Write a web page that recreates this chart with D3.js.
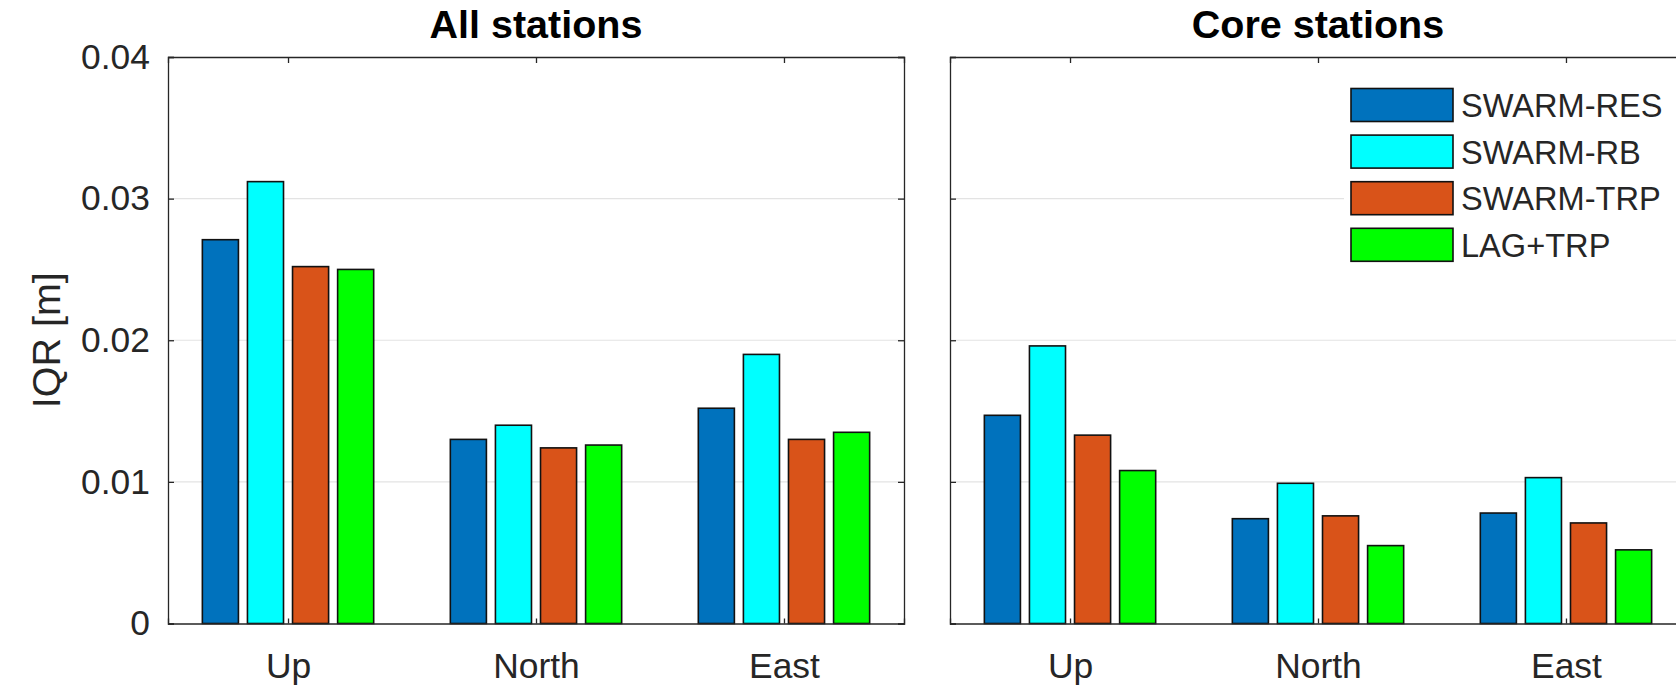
<!DOCTYPE html>
<html>
<head>
<meta charset="utf-8">
<script src="https://cdn.jsdelivr.net/npm/d3@7"></script>
<style>
  html, body { margin: 0; padding: 0; background: #fff; overflow: hidden; }
  svg { display: block; font-family: "Liberation Sans", Arial, Helvetica, sans-serif; }
</style>
</head>
<body>
<svg id="chart" width="1676" height="688"></svg>
<script>
// Components of the position error
const categories = ["Up", "North", "East"];
const seriesNames = ["SWARM-RES", "SWARM-RB", "SWARM-TRP", "LAG+TRP"];
const seriesColors = ["#0072BD", "#00FFFF", "#D95319", "#00FF00"];
const panelTitles = ["All stations", "Core stations"];
const yTicks = [0, 0.01, 0.02, 0.03, 0.04];

// IQR [m] per series, one value per category (Up, North, East)
const allSwarmRes = [0.0271, 0.0130, 0.0152];
const allSwarmRb  = [0.0312, 0.0140, 0.0190];
const allSwarmTrp = [0.0252, 0.0124, 0.0130];
const allLagTrp   = [0.0250, 0.0126, 0.0135];

const coreSwarmRes = [0.0147, 0.0074, 0.0078];
const coreSwarmRb  = [0.0196, 0.0099, 0.0103];
const coreSwarmTrp = [0.0133, 0.0076, 0.0071];
const coreLagTrp   = [0.0108, 0.0055, 0.0052];

const panels = [
  { title: panelTitles[0], series: [allSwarmRes, allSwarmRb, allSwarmTrp, allLagTrp], left: 168, showY: true, legend: false },
  { title: panelTitles[1], series: [coreSwarmRes, coreSwarmRb, coreSwarmTrp, coreLagTrp], left: 950, showY: false, legend: true }
];

const svg = d3.select("#chart");
const axisColor = "#262626";
const plotTop = 57, plotBottom = 623.5, panelW = 736;
const tickFont = 35.4;

const y = d3.scaleLinear().domain([0, 0.04]).range([plotBottom, plotTop]);

// grouped-bar geometry in category units
const nS = seriesNames.length;
const groupW = Math.min(0.8, nS / (nS + 1.5));
const slot = groupW / nS;
const barW = slot * 0.8;

panels.forEach(p => {
  const x = d3.scaleLinear().domain([0.516, 3.484]).range([p.left, p.left + panelW]);
  const g = svg.append("g");

  // grid lines
  g.append("g").selectAll("line")
    .data(yTicks.filter(v => v > 0 && v < 0.04))
    .join("line")
    .attr("x1", p.left).attr("x2", p.left + panelW)
    .attr("y1", d => y(d)).attr("y2", d => y(d))
    .attr("stroke", "#e3e3e3").attr("stroke-width", 1.2);

  // bars
  p.series.forEach((vals, j) => {
    g.append("g").selectAll("rect")
      .data(vals)
      .join("rect")
      .attr("x", (d, i) => x(i + 1 + (j - (nS - 1) / 2) * slot - barW / 2))
      .attr("width", x(barW) - x(0))
      .attr("y", d => y(d))
      .attr("height", d => y(0) - y(d))
      .attr("fill", seriesColors[j])
      .attr("stroke", "#111")
      .attr("stroke-width", 1.6);
  });

  // left axis
  const yAxis = d3.axisLeft(y).tickValues(yTicks).tickSize(-6).tickPadding(18)
    .tickFormat(v => v === 0 ? "0" : v.toFixed(2));
  const ya = g.append("g").attr("transform", `translate(${p.left},0)`).call(yAxis);
  if (!p.showY) ya.selectAll("text").remove();

  // right axis (mirrored ticks)
  g.append("g").attr("transform", `translate(${p.left + panelW},0)`)
    .call(d3.axisRight(y).tickValues(yTicks).tickSize(-6).tickFormat(""));

  // bottom axis with category labels
  g.append("g").attr("transform", `translate(0,${plotBottom})`)
    .call(d3.axisBottom(x).tickValues([1, 2, 3]).tickSize(-5).tickPadding(29)
      .tickFormat(i => categories[i - 1]));

  // top axis (ticks only)
  g.append("g").attr("transform", `translate(0,${plotTop})`)
    .call(d3.axisTop(x).tickValues([1, 2, 3]).tickSize(-6).tickFormat(""));

  g.selectAll(".domain").attr("stroke", axisColor).attr("stroke-width", 1.3);
  g.selectAll(".tick line").attr("stroke", axisColor).attr("stroke-width", 1.3);
  g.selectAll(".tick text").attr("fill", axisColor).style("font-size", tickFont + "px");

  // title
  g.append("text")
    .attr("x", p.left + panelW / 2).attr("y", 38)
    .attr("text-anchor", "middle")
    .style("font-size", "39.5px").style("font-weight", "bold")
    .attr("fill", "#000")
    .text(p.title);

  if (p.legend) {
    const lg = g.append("g");
    lg.append("rect")
      .attr("x", 1344).attr("y", 74).attr("width", 400).attr("height", 205)
      .attr("fill", "#fff");
    seriesNames.forEach((name, j) => {
      const ry = 88.5 + j * 46.6;
      lg.append("rect")
        .attr("x", 1351).attr("y", ry).attr("width", 102).attr("height", 33)
        .attr("fill", seriesColors[j]).attr("stroke", "#111").attr("stroke-width", 1.6);
      lg.append("text")
        .attr("x", 1461).attr("y", ry + 28.5)
        .style("font-size", "32.6px").attr("fill", axisColor)
        .text(name);
    });
  }
});

// y-axis label
svg.append("text")
  .attr("transform", `translate(60,${(plotTop + plotBottom) / 2}) rotate(-90)`)
  .attr("text-anchor", "middle")
  .style("font-size", "39.5px")
  .attr("fill", axisColor)
  .text("IQR [m]");
</script>
</body>
</html>
